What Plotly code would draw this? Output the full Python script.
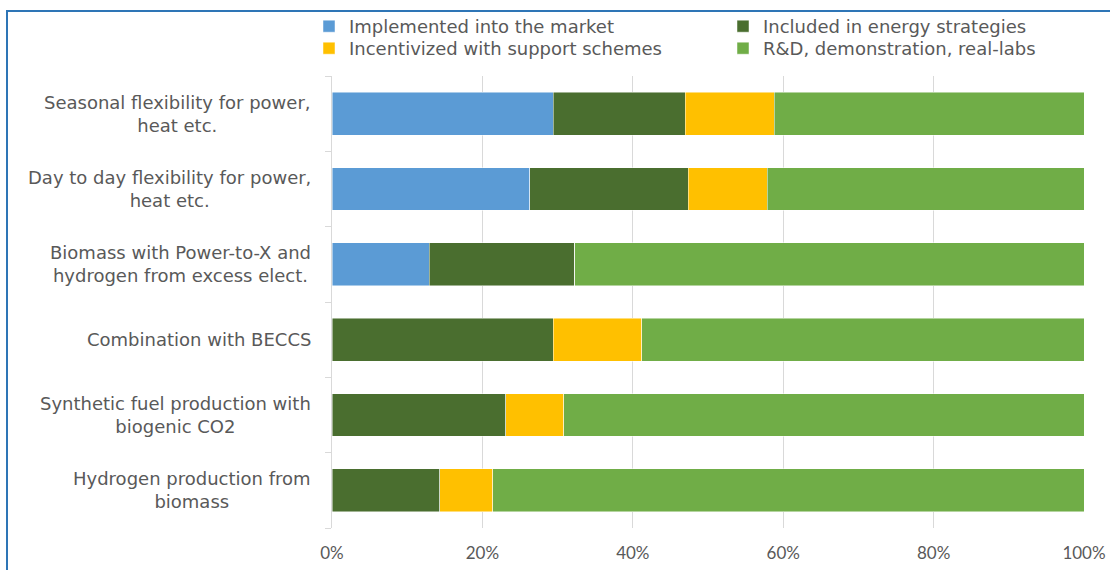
import plotly.graph_objects as go

categories = [
    "Seasonal flexibility for power,<br>heat etc.",
    "Day to day flexibility for power,<br>heat etc.",
    "Biomass with Power-to-X and<br>hydrogen from excess elect.",
    "Combination with BECCS",
    "Synthetic fuel production with<br>biogenic CO2",
    "Hydrogen production from<br>biomass",
]
series_names = [
    "Implemented into the market",
    "Included in energy strategies",
    "Incentivized with support schemes",
    "R&D, demonstration, real-labs",
]
implemented = [29.4, 26.3, 12.9, 0.0, 0.0, 0.0]
included = [17.6, 21.1, 19.4, 29.4, 23.1, 14.3]
incentivized = [11.8, 10.5, 0.0, 11.8, 7.7, 7.1]
rnd = [41.2, 42.1, 67.7, 58.8, 69.2, 78.6]
colors = ["#5B9BD5", "#4A6E2F", "#FFC000", "#70AD47"]
legend_ids = ["legend", "legend2", "legend3", "legend4"]
x_ticks = [0, 20, 40, 60, 80, 100]
x_tick_labels = ["0%", "20%", "40%", "60%", "80%", "100%"]

W, H = 1110, 570
L, R, T, B = 332, 26, 76, 42
pw, ph = W - L - R, H - T - B

def px_x(p):
    return (p - L) / pw

def px_y(p):
    return (H - B - p) / ph

fig = go.Figure()
for name, vals, col, lg in zip(series_names, [implemented, included, incentivized, rnd], colors, legend_ids):
    fig.add_trace(go.Bar(
        y=categories, x=vals, name=name, orientation="h",
        marker=dict(color=col, line=dict(color="rgba(255,255,255,0.6)", width=0.8)),
        legend=lg, hoverinfo="x+name",
    ))

label_font = dict(family="DejaVu Sans", size=18, color="#595959")

for c in categories:
    fig.add_annotation(
        x=0, xref="paper", y=c, yref="y", text=c, showarrow=False,
        xanchor="right", yanchor="middle", align="center", xshift=-19,
        font=label_font,
    )

fig.add_shape(
    type="rect", xref="paper", yref="paper",
    x0=px_x(7), x1=px_x(1120), y0=px_y(580), y1=px_y(11),
    line=dict(color="#2E75B6", width=2), fillcolor="rgba(0,0,0,0)", layer="below",
)

legend_pos = [(309, 8), (723, 8), (309, 30), (723, 30)]
legend_cfg = {}
for lg, (lx, ly) in zip(legend_ids, legend_pos):
    legend_cfg[lg] = dict(
        x=px_x(lx), y=px_y(ly), xanchor="left", yanchor="top",
        orientation="v", font=label_font, bgcolor="rgba(0,0,0,0)",
        itemwidth=30,
    )

fig.update_layout(
    width=W, height=H,
    margin=dict(l=L, r=R, t=T, b=B, autoexpand=False),
    paper_bgcolor="white", plot_bgcolor="white",
    barmode="stack", bargap=0.43,
    showlegend=True,
    xaxis=dict(
        range=[0, 100], tickvals=x_ticks, ticktext=x_tick_labels,
        showgrid=True, gridcolor="#D9D9D9", gridwidth=1,
        zeroline=False, showline=False,
        ticks="outside", ticklen=10, tickcolor="rgba(0,0,0,0)",
        tickfont=dict(family="Lato", size=17, color="#595959"),
        fixedrange=True, automargin=False,
    ),
    yaxis=dict(
        categoryorder="array", categoryarray=categories[::-1],
        range=[-0.5, 5.5], showticklabels=False,
        showline=True, linecolor="#D9D9D9", linewidth=1,
        ticks="outside", tickson="boundaries", ticklen=6, tickcolor="#D9D9D9",
        showgrid=False, zeroline=False, fixedrange=True, automargin=False,
    ),
    **legend_cfg,
)

fig.write_html("out.html", config={"displayModeBar": False},
               post_script="document.body.style.margin='0';")
